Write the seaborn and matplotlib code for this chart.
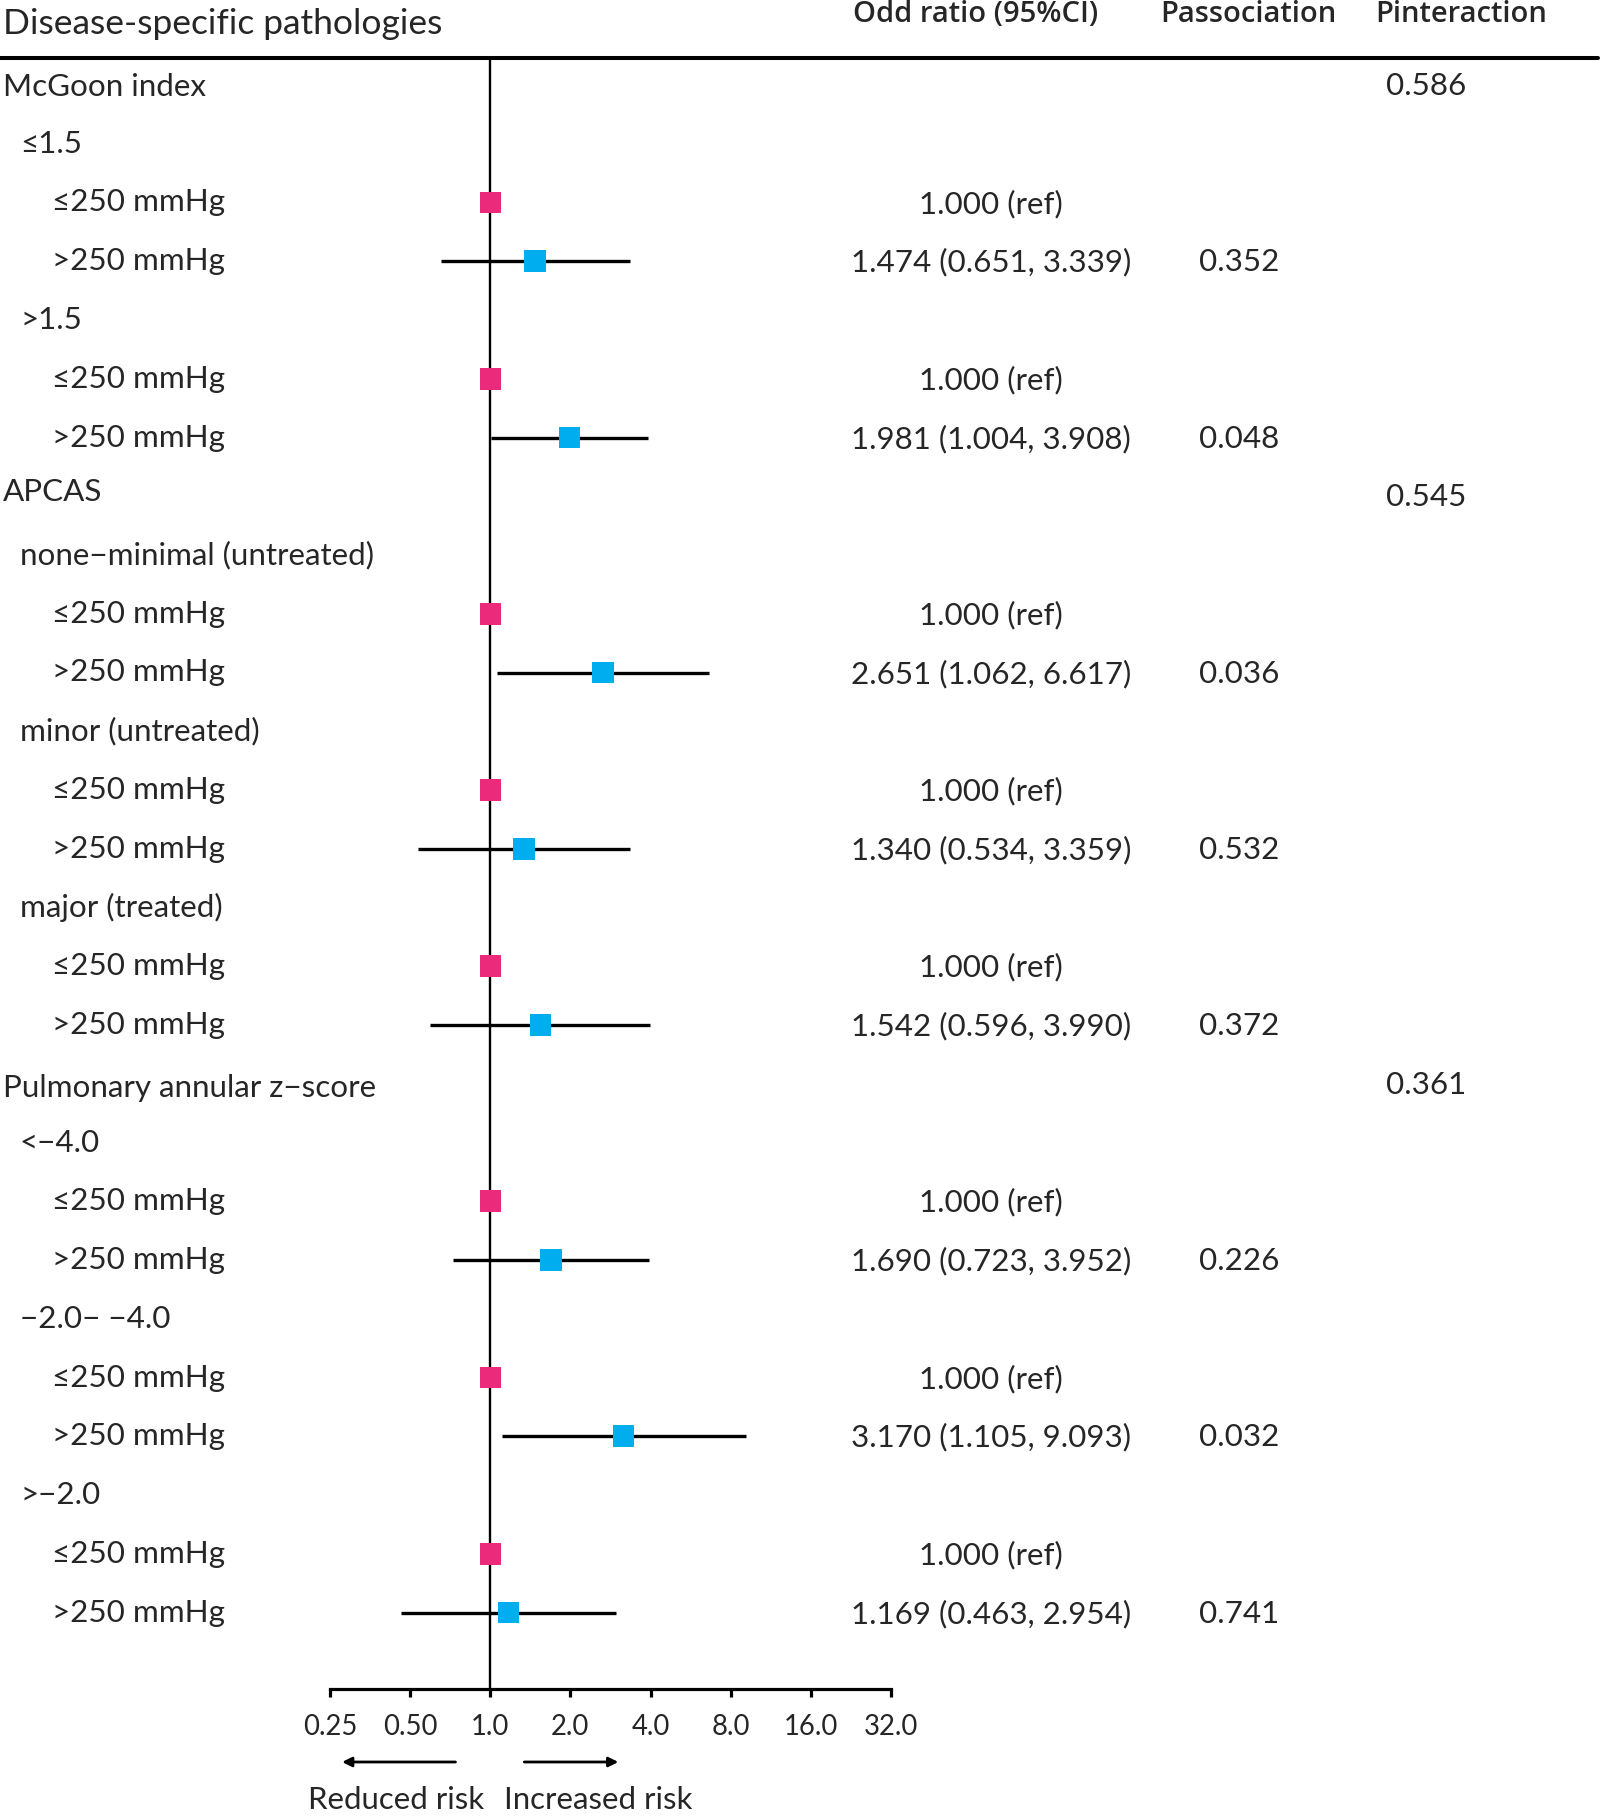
import numpy as np
import pandas as pd
import matplotlib
matplotlib.use("Agg")
import matplotlib.pyplot as plt
import matplotlib.transforms as mtransforms
import seaborn as sns

# ---------------- data ----------------
labels = ["McGoon index", "≤1.5", "≤250 mmHg", ">250 mmHg", ">1.5", "≤250 mmHg", ">250 mmHg",
          "APCAS", "none−minimal (untreated)", "≤250 mmHg", ">250 mmHg",
          "minor (untreated)", "≤250 mmHg", ">250 mmHg",
          "major (treated)", "≤250 mmHg", ">250 mmHg",
          "Pulmonary annular z−score", "<−4.0", "≤250 mmHg", ">250 mmHg",
          "−2.0− −4.0", "≤250 mmHg", ">250 mmHg",
          ">−2.0", "≤250 mmHg", ">250 mmHg"]
levels = [0, 1, 2, 2, 1, 2, 2,
          0, 1, 2, 2, 1, 2, 2, 1, 2, 2,
          0, 1, 2, 2, 1, 2, 2, 1, 2, 2]
or_vals = [np.nan, np.nan, 1.000, 1.474, np.nan, 1.000, 1.981,
           np.nan, np.nan, 1.000, 2.651, np.nan, 1.000, 1.340, np.nan, 1.000, 1.542,
           np.nan, np.nan, 1.000, 1.690, np.nan, 1.000, 3.170, np.nan, 1.000, 1.169]
ci_low = [np.nan, np.nan, np.nan, 0.651, np.nan, np.nan, 1.004,
          np.nan, np.nan, np.nan, 1.062, np.nan, np.nan, 0.534, np.nan, np.nan, 0.596,
          np.nan, np.nan, np.nan, 0.723, np.nan, np.nan, 1.105, np.nan, np.nan, 0.463]
ci_high = [np.nan, np.nan, np.nan, 3.339, np.nan, np.nan, 3.908,
           np.nan, np.nan, np.nan, 6.617, np.nan, np.nan, 3.359, np.nan, np.nan, 3.990,
           np.nan, np.nan, np.nan, 3.952, np.nan, np.nan, 9.093, np.nan, np.nan, 2.954]
or_text = ["", "", "1.000 (ref)", "1.474 (0.651, 3.339)", "", "1.000 (ref)", "1.981 (1.004, 3.908)",
           "", "", "1.000 (ref)", "2.651 (1.062, 6.617)", "", "1.000 (ref)", "1.340 (0.534, 3.359)",
           "", "1.000 (ref)", "1.542 (0.596, 3.990)",
           "", "", "1.000 (ref)", "1.690 (0.723, 3.952)", "", "1.000 (ref)", "3.170 (1.105, 9.093)",
           "", "1.000 (ref)", "1.169 (0.463, 2.954)"]
p_assoc = ["", "", "", "0.352", "", "", "0.048", "", "", "", "0.036", "", "", "0.532", "", "", "0.372",
           "", "", "", "0.226", "", "", "0.032", "", "", "0.741"]
p_inter = ["0.586", "", "", "", "", "", "", "0.545", "", "", "", "", "", "", "", "", "",
           "0.361", "", "", "", "", "", "", "", "", ""]
headers = ["Disease-specific pathologies", "Odd ratio (95%CI)", "Passociation", "Pinteraction"]
xticks = [0.25, 0.5, 1, 2, 4, 8, 16, 32]
xticklabels = ["0.25", "0.50", "1.0", "2.0", "4.0", "8.0", "16.0", "32.0"]

# ---------------- style ----------------
sns.set_style("white")
FONT = ["Lato", "DejaVu Sans"]
plt.rcParams["font.family"] = FONT

W, H = 1600, 1816
fig = plt.figure(figsize=(W / 100, H / 100), dpi=100)

row0_px, row_step = 85, 58.75
ax_top_px, ax_bot_px = 58, 1689
ax = fig.add_axes([330 / W, 1 - ax_bot_px / H, 561 / W, (ax_bot_px - ax_top_px) / H])
ax.set_xscale("log", base=2)
ax.set_xlim(0.25, 32)
ax.set_ylim((ax_bot_px - row0_px) / row_step, (ax_top_px - row0_px) / row_step)

n = len(labels)
df = pd.DataFrame({"row": np.arange(n), "or": or_vals, "lo": ci_low, "hi": ci_high,
                   "grp": ["ref" if t == "1.000 (ref)" else ("exp" if t else "") for t in or_text]})
pts = df.dropna(subset=["or"])

# CI lines
ci = df.dropna(subset=["lo"])
ax.hlines(ci["row"], ci["lo"], ci["hi"], color="black", lw=2.4, zorder=2)
ax.axvline(1, color="black", lw=1.7, zorder=1)

sns.scatterplot(data=pts, x="or", y="row", hue="grp", palette={"ref": "#EC2A7B", "exp": "#00AEEF"},
                marker="s", s=240, linewidth=0, legend=False, ax=ax, zorder=3)

# axes cosmetics
for s in ["left", "right", "top"]:
    ax.spines[s].set_visible(False)
ax.spines["bottom"].set_linewidth(2.3)
ax.spines["bottom"].set_color("black")
ax.set_xticks(xticks)
ax.set_xticklabels(xticklabels)
ax.xaxis.set_minor_locator(matplotlib.ticker.NullLocator())
ax.tick_params(axis="x", direction="out", length=6, width=2.3, color="black",
               labelsize=19.8, pad=12, bottom=True)
ax.set_yticks([])
ax.set_xlabel("")
ax.set_ylabel("")

# text
tr = mtransforms.blended_transform_factory(fig.transFigure, ax.transData)
indent_px = [3, 20, 52]
label_shift = {0: 0.04, 7: -0.08, 17: 0.08}
FS = 22.6
for i in range(n):
    ax.text(indent_px[levels[i]] / W, i + label_shift.get(i, 0.0), labels[i], transform=tr,
            ha="left", va="center", fontsize=FS, clip_on=False)
    if or_text[i]:
        ax.text(991 / W, i + 0.02, or_text[i], transform=tr, ha="center", va="center", fontsize=FS, clip_on=False)
    if p_assoc[i]:
        ax.text(1239 / W, i + 0.02, p_assoc[i], transform=tr, ha="center", va="center", fontsize=FS, clip_on=False)
    if p_inter[i]:
        ax.text(1426 / W, i + 0.02, p_inter[i], transform=tr, ha="center", va="center", fontsize=FS, clip_on=False)

# headers
HFONT = ["Open Sans", "DejaVu Sans"]
fig.text(3 / W, 1 - 24 / H, headers[0], ha="left", va="center", fontsize=25.5)
fig.text(976 / W, 1 - 15 / H, headers[1], ha="center", va="center", fontsize=21, family=HFONT,
         fontweight="semibold")
fig.text(1248 / W, 1 - 15 / H, headers[2], ha="center", va="center", fontsize=21, family=HFONT,
         fontweight="semibold")
fig.text(1461 / W, 1 - 15 / H, headers[3], ha="center", va="center", fontsize=21, family=HFONT,
         fontweight="semibold")

# header rule
fig.add_artist(matplotlib.lines.Line2D([0, 1598 / W], [1 - 58 / H] * 2, transform=fig.transFigure,
                                       color="black", lw=2.9))

# arrows and risk labels
atr = mtransforms.blended_transform_factory(ax.transData, fig.transFigure)
ya = 1 - 1762 / H
ax.annotate("", xy=(0.271, ya), xytext=(0.758, ya), xycoords=atr, textcoords=atr,
            arrowprops=dict(arrowstyle="-|>", lw=2.0, color="black", mutation_scale=14),
            annotation_clip=False)
ax.annotate("", xy=(3.1, ya), xytext=(1.31, ya), xycoords=atr, textcoords=atr,
            arrowprops=dict(arrowstyle="-|>", lw=2.0, color="black", mutation_scale=14),
            annotation_clip=False)
fig.text(396 / W, 1 - 1800 / H, "Reduced risk", ha="center", va="center", fontsize=22.4)
fig.text(598 / W, 1 - 1800 / H, "Increased risk", ha="center", va="center", fontsize=22.4)

fig.savefig("out.png", dpi=100)
